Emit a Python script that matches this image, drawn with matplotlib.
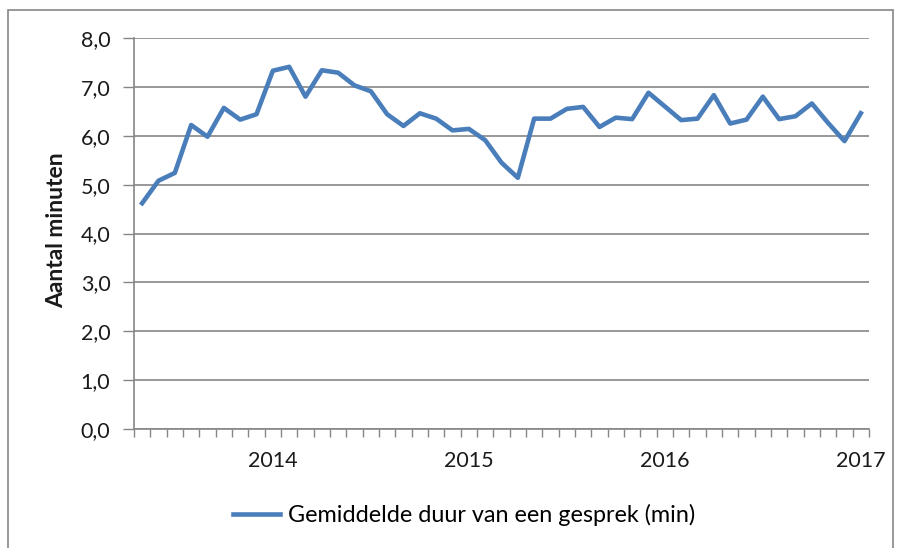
import matplotlib
matplotlib.use("Agg")
import matplotlib.pyplot as plt
from matplotlib.patches import Rectangle
from matplotlib.ticker import FixedLocator, NullFormatter

# maandelijkse gemiddelde gespreksduur, mei 2013 t/m jan 2017
months = list(range(45))
duur = [4.62, 5.08, 5.24, 6.22, 5.98, 6.57, 6.33, 6.44, 7.33, 7.41,
        6.80, 7.34, 7.29, 7.03, 6.91, 6.44, 6.20, 6.46, 6.35, 6.11,
        6.14, 5.91, 5.45, 5.14, 6.35, 6.35, 6.55, 6.59, 6.18, 6.37,
        6.34, 6.88, 6.60, 6.32, 6.35, 6.83, 6.25, 6.33, 6.80, 6.34,
        6.40, 6.66, 6.26, 5.89, 6.46]
year_pos = [8, 20, 32, 44]
year_labels = ["2014", "2015", "2016", "2017"]
y_ticks = [0, 1, 2, 3, 4, 5, 6, 7, 8]

FONT = "Lato"
GRAY = "#868686"
BLUE = "#4a7ebb"

fig = plt.figure(figsize=(9.01, 5.48), dpi=100)
ax = fig.add_axes([134 / 901, 1 - 429 / 548, 735 / 901, 391 / 548])

line, = ax.plot(months, duur, color=BLUE, lw=3.3, solid_joinstyle="round",
                label="Gemiddelde duur van een gesprek (min)")

ax.set_xlim(-0.5, 44.5)
ax.set_ylim(0, 8)

ax.set_yticks(y_ticks)
ax.set_yticklabels([f"{v:.1f}".replace(".", ",") for v in y_ticks],
                   fontfamily=FONT, fontsize=15.5, color="#1a1a1a")
ax.tick_params(axis="y", length=8, width=1, color=GRAY, pad=9)

# kleine streepjes op de maandgrenzen, jaarlabels in het midden
ax.xaxis.set_major_locator(FixedLocator([k - 0.5 for k in range(46)]))
ax.xaxis.set_major_formatter(NullFormatter())
ax.xaxis.set_minor_locator(FixedLocator(year_pos))
ax.set_xticklabels(year_labels, minor=True, fontfamily=FONT, fontsize=15.5,
                   color="#1a1a1a")
ax.tick_params(axis="x", which="major", length=6, width=1, color=GRAY)
ax.tick_params(axis="x", which="minor", length=0, pad=16)

ax.grid(axis="y", color=GRAY, lw=1.2)
ax.set_axisbelow(True)
for side in ("top", "right"):
    ax.spines[side].set_visible(False)
for side in ("left", "bottom"):
    ax.spines[side].set_color(GRAY)
    ax.spines[side].set_linewidth(1.2)

fig.text(57 / 901, 1 - 230 / 548, "Aantal minuten", rotation=90,
         ha="center", va="center", fontfamily=FONT, fontsize=16.5,
         fontweight="bold", color="#1a1a1a")

fig.legend(handles=[line], loc="center", bbox_to_anchor=(464 / 901, 1 - 515 / 548),
           frameon=False, prop={"family": FONT, "size": 16.8},
           handlelength=2.0, handletextpad=0.35)

# kader rond de grafiek
fig.patches.append(Rectangle((8 / 901, -0.05), 885 / 901, 1.05 - 10 / 548,
                             transform=fig.transFigure, fill=False,
                             edgecolor=GRAY, lw=1.2, clip_on=False))

fig.savefig("out.png", dpi=100)
